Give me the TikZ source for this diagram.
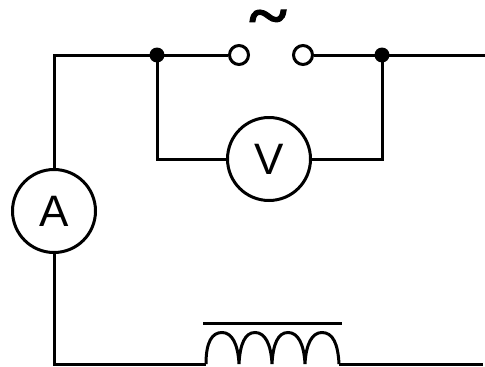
\documentclass[tikz,border=0pt]{standalone}
\usepackage{fontspec}
\setmainfont{Liberation Sans}
\newfontfamily\tildefont[BoldFeatures={FakeBold=1.5}]{Liberation Serif}
\begin{document}
\begin{tikzpicture}[x=1pt,y=-1pt,line width=3pt,
  meter/.style={circle,draw=black,fill=white,minimum size=83pt,inner sep=0pt,font=\fontsize{44}{44}\selectfont},
  terminal/.style={circle,draw=black,fill=white,minimum size=19pt,inner sep=0pt},
  junction/.style={circle,fill=black,draw=none,minimum size=15pt,inner sep=0pt}]
\useasboundingbox (0,0) rectangle (485,367);
\coordinate (corner1) at (55,55);
\coordinate (corner2) at (55,364);
\coordinate (endtop) at (485,55);
\coordinate (coilL) at (206,364);
\coordinate (coilR) at (339,364);
\coordinate (endbot) at (483,364);
\coordinate (barL) at (203,323);
\coordinate (barR) at (342,323);
\coordinate (vl) at (157,159);
\coordinate (vr) at (382,159);
\coordinate (jlc) at (157,55);
\coordinate (jrc) at (382,55);
\node[terminal] (tl) at (239,55) {};
\node[terminal] (tr) at (303,55) {};
\node[meter] (V) at (269,159) {V};
\node[meter] (A) at (54,211) {A};
\node[font=\tildefont\bfseries\fontsize{64}{64}\selectfont,inner sep=0pt,xscale=1.12,transform shape,anchor=base] (tilde) at (268,37) {\smash{\textasciitilde}};
\draw (A.north) -- (A.north |- corner1) -- (jlc) -- (tl);
\draw (tr) -- (jrc) -- (endtop);
\draw (jlc) -- (vl) -- (V);
\draw (V) -- (vr) -- (jrc);
\draw (A.south) -- (A.south |- corner2) -- (coilL);
\draw (coilR) -- (endbot);
\draw (barL) -- (barR);
\node[junction] (jl) at (jlc) {};
\node[junction] (jr) at (jrc) {};
\draw (coilL)
  .. controls (206,342) and (212,332.5) .. (222,332.5)
  .. controls (232,332.5) and (238,344) .. (239,364)
  .. controls (240,344) and (245,332.5) .. (255,332.5)
  .. controls (265,332.5) and (271,344) .. (272,364)
  .. controls (273,344) and (278,332.5) .. (288,332.5)
  .. controls (298,332.5) and (304,344) .. (305,364)
  .. controls (306,344) and (312,332.5) .. (322,332.5)
  .. controls (333,332.5) and (338,344) .. (coilR);
\end{tikzpicture}
\end{document}
